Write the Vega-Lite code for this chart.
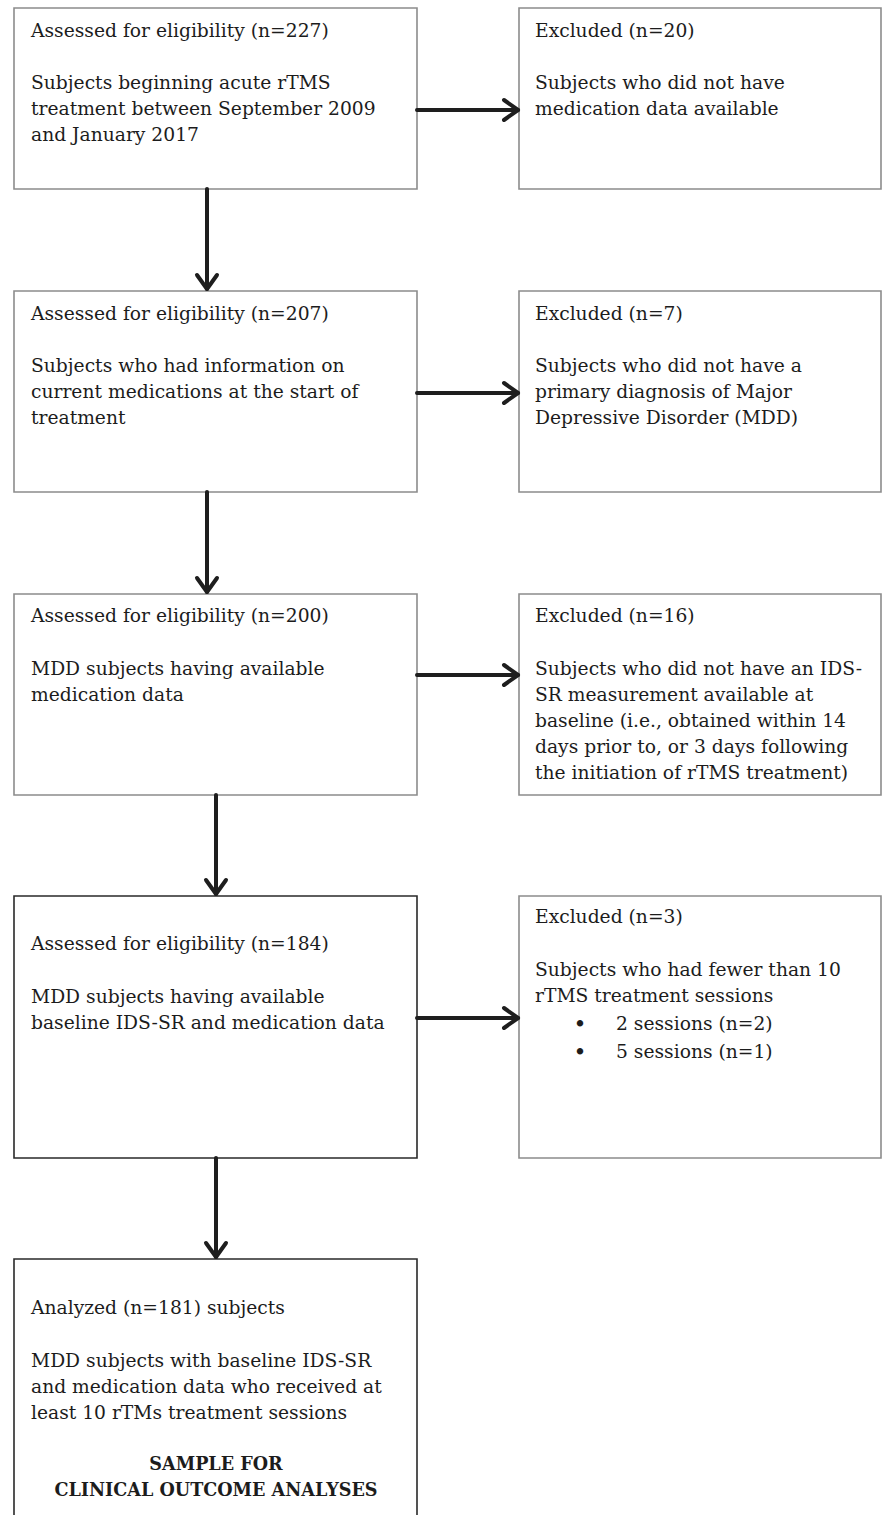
{
  "$schema": "https://vega.github.io/schema/vega-lite/v6.json",
  "width": 885,
  "height": 1515,
  "padding": 0,
  "autosize": {"type": "none"},
  "background": "white",
  "config": {"view": {"stroke": null}},
  "datasets": {
    "boxes": [
      {"id": "a1", "x0": 14, "x1": 417, "y0": 8, "y1": 189, "dark": "no"},
      {"id": "e1", "x0": 519, "x1": 881, "y0": 8, "y1": 189, "dark": "no"},
      {"id": "a2", "x0": 14, "x1": 417, "y0": 291, "y1": 492, "dark": "no"},
      {"id": "e2", "x0": 519, "x1": 881, "y0": 291, "y1": 492, "dark": "no"},
      {"id": "a3", "x0": 14, "x1": 417, "y0": 594, "y1": 795, "dark": "no"},
      {"id": "e3", "x0": 519, "x1": 881, "y0": 594, "y1": 795, "dark": "no"},
      {"id": "a4", "x0": 14, "x1": 417, "y0": 896, "y1": 1158, "dark": "yes"},
      {"id": "e4", "x0": 519, "x1": 881, "y0": 896, "y1": 1158, "dark": "no"},
      {"id": "a5", "x0": 14, "x1": 417, "y0": 1259, "y1": 1530, "dark": "yes"}
    ],
    "segments": [
      {"x0": 417, "y0": 110, "x1": 517, "y1": 110},
      {"x0": 504, "y0": 100, "x1": 518, "y1": 110},
      {"x0": 504, "y0": 120, "x1": 518, "y1": 110},
      {"x0": 207, "y0": 189, "x1": 207, "y1": 288},
      {"x0": 197, "y0": 275, "x1": 207, "y1": 289},
      {"x0": 217, "y0": 275, "x1": 207, "y1": 289},
      {"x0": 417, "y0": 393, "x1": 517, "y1": 393},
      {"x0": 504, "y0": 383, "x1": 518, "y1": 393},
      {"x0": 504, "y0": 403, "x1": 518, "y1": 393},
      {"x0": 207, "y0": 492, "x1": 207, "y1": 591},
      {"x0": 197, "y0": 578, "x1": 207, "y1": 592},
      {"x0": 217, "y0": 578, "x1": 207, "y1": 592},
      {"x0": 417, "y0": 675, "x1": 517, "y1": 675},
      {"x0": 504, "y0": 665, "x1": 518, "y1": 675},
      {"x0": 504, "y0": 685, "x1": 518, "y1": 675},
      {"x0": 216, "y0": 795, "x1": 216, "y1": 893},
      {"x0": 206, "y0": 880, "x1": 216, "y1": 894},
      {"x0": 226, "y0": 880, "x1": 216, "y1": 894},
      {"x0": 417, "y0": 1018, "x1": 517, "y1": 1018},
      {"x0": 504, "y0": 1008, "x1": 518, "y1": 1018},
      {"x0": 504, "y0": 1028, "x1": 518, "y1": 1018},
      {"x0": 216, "y0": 1158, "x1": 216, "y1": 1256},
      {"x0": 206, "y0": 1243, "x1": 216, "y1": 1257},
      {"x0": 226, "y0": 1243, "x1": 216, "y1": 1257}
    ],
    "texts": [
      {"x": 31, "y": 31, "t": "Assessed for eligibility (n=227)"},
      {"x": 31, "y": 83, "t": "Subjects beginning acute rTMS"},
      {"x": 31, "y": 109, "t": "treatment between September 2009"},
      {"x": 31, "y": 135, "t": "and January 2017"},
      {"x": 535, "y": 31, "t": "Excluded (n=20)"},
      {"x": 535, "y": 83, "t": "Subjects who did not have"},
      {"x": 535, "y": 109, "t": "medication data available"},
      {"x": 31, "y": 314, "t": "Assessed for eligibility (n=207)"},
      {"x": 31, "y": 366, "t": "Subjects who had information on"},
      {"x": 31, "y": 392, "t": "current medications at the start of"},
      {"x": 31, "y": 418, "t": "treatment"},
      {"x": 535, "y": 314, "t": "Excluded (n=7)"},
      {"x": 535, "y": 366, "t": "Subjects who did not have a"},
      {"x": 535, "y": 392, "t": "primary diagnosis of Major"},
      {"x": 535, "y": 418, "t": "Depressive Disorder (MDD)"},
      {"x": 31, "y": 616, "t": "Assessed for eligibility (n=200)"},
      {"x": 31, "y": 669, "t": "MDD subjects having available"},
      {"x": 31, "y": 695, "t": "medication data"},
      {"x": 535, "y": 616, "t": "Excluded (n=16)"},
      {"x": 535, "y": 669, "t": "Subjects who did not have an IDS-"},
      {"x": 535, "y": 695, "t": "SR measurement available at"},
      {"x": 535, "y": 721, "t": "baseline (i.e., obtained within 14"},
      {"x": 535, "y": 747, "t": "days prior to, or 3 days following"},
      {"x": 535, "y": 773, "t": "the initiation of rTMS treatment)"},
      {"x": 31, "y": 944, "t": "Assessed for eligibility (n=184)"},
      {"x": 31, "y": 997, "t": "MDD subjects having available"},
      {"x": 31, "y": 1023, "t": "baseline IDS-SR and medication data"},
      {"x": 535, "y": 917, "t": "Excluded (n=3)"},
      {"x": 535, "y": 970, "t": "Subjects who had fewer than 10"},
      {"x": 535, "y": 996, "t": "rTMS treatment sessions"},
      {"x": 616, "y": 1024, "t": "2 sessions (n=2)"},
      {"x": 616, "y": 1052, "t": "5 sessions (n=1)"},
      {"x": 31, "y": 1308, "t": "Analyzed (n=181) subjects"},
      {"x": 31, "y": 1361, "t": "MDD subjects with baseline IDS-SR"},
      {"x": 31, "y": 1387, "t": "and medication data who received at"},
      {"x": 31, "y": 1413, "t": "least 10 rTMs treatment sessions"}
    ],
    "bullets": [
      {"x": 580, "y": 1025, "t": "•"},
      {"x": 580, "y": 1053, "t": "•"}
    ],
    "bold": [
      {"x": 216, "y": 1465, "t": "SAMPLE FOR"},
      {"x": 216, "y": 1491, "t": "CLINICAL OUTCOME ANALYSES"}
    ]
  },
  "layer": [
    {
      "data": {"name": "boxes"},
      "mark": {"type": "rect", "fill": "white", "strokeWidth": 1.6},
      "encoding": {
        "x": {"field": "x0", "type": "quantitative", "scale": {"domain": [0, 885], "nice": false, "zero": false}, "axis": null},
        "x2": {"field": "x1"},
        "y": {"field": "y0", "type": "quantitative", "scale": {"domain": [0, 1515], "nice": false, "zero": false, "reverse": true}, "axis": null},
        "y2": {"field": "y1"},
        "stroke": {"field": "dark", "type": "nominal", "scale": {"domain": ["no", "yes"], "range": ["#8c8c8c", "#2a2a2a"]}, "legend": null}
      }
    },
    {
      "data": {"name": "segments"},
      "mark": {"type": "rule", "color": "#1e1e1e", "strokeWidth": 4, "strokeCap": "round"},
      "encoding": {
        "x": {"field": "x0", "type": "quantitative"},
        "x2": {"field": "x1"},
        "y": {"field": "y0", "type": "quantitative"},
        "y2": {"field": "y1"}
      }
    },
    {
      "data": {"name": "texts"},
      "mark": {"type": "text", "align": "left", "baseline": "middle", "font": "DejaVu Serif", "fontSize": 18.7, "color": "#1c1c1c"},
      "encoding": {
        "x": {"field": "x", "type": "quantitative"},
        "y": {"field": "y", "type": "quantitative"},
        "text": {"field": "t", "type": "nominal"}
      }
    },
    {
      "data": {"name": "bullets"},
      "mark": {"type": "text", "align": "center", "baseline": "middle", "font": "DejaVu Serif", "fontSize": 22, "color": "#1c1c1c"},
      "encoding": {
        "x": {"field": "x", "type": "quantitative"},
        "y": {"field": "y", "type": "quantitative"},
        "text": {"field": "t", "type": "nominal"}
      }
    },
    {
      "data": {"name": "bold"},
      "mark": {"type": "text", "align": "center", "baseline": "middle", "font": "DejaVu Serif", "fontSize": 17.6, "fontWeight": "bold", "color": "#1c1c1c"},
      "encoding": {
        "x": {"field": "x", "type": "quantitative"},
        "y": {"field": "y", "type": "quantitative"},
        "text": {"field": "t", "type": "nominal"}
      }
    }
  ]
}
